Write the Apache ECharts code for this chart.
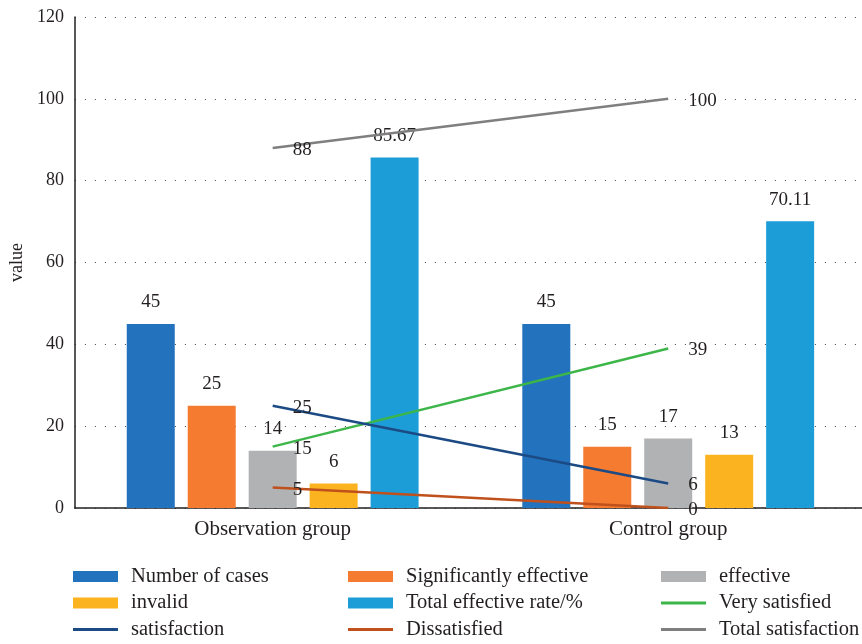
<!DOCTYPE html>
<html><head><meta charset="utf-8">
<script src="https://cdn.jsdelivr.net/npm/echarts@6/dist/echarts.min.js"></script>
<style>html,body{margin:0;padding:0;background:#fff;overflow:hidden;width:862px;height:644px}#c{width:870px;height:644px}</style>
</head><body><div id="c"></div>
<script>
var categories = ['Observation group', 'Control group'];
var numberOfCases = [45, 45];
var significantlyEffective = [25, 15];
var effective = [14, 17];
var invalid = [6, 13];
var totalEffectiveRate = [85.67, 70.11];
var verySatisfied = [15, 39];
var satisfaction = [25, 6];
var dissatisfied = [5, 0];
var totalSatisfaction = [88, 100];
var yTicks = [0, 20, 40, 60, 80, 100, 120];

var FONT = 'Liberation Serif';
var TXT = '#231f20';
var chart = echarts.init(document.getElementById('c'));
function bar(name, data, color) {
  return {
    name: name, type: 'bar', data: data, barWidth: 48, barGap: '27%',
    itemStyle: { color: color },
    label: { show: true, position: 'top', distance: 12, color: TXT, fontFamily: FONT, fontSize: 19 }
  };
}
function line(name, data, color) {
  return {
    name: name, type: 'line', data: data, symbol: 'circle', symbolSize: 0, showSymbol: true, z: 5,
    lineStyle: { color: color, width: 2.5 }, itemStyle: { color: color },
    label: { show: true, position: 'right', distance: 20, offset: [0, 2], color: TXT, fontFamily: FONT, fontSize: 19 }
  };
}
var LINE_ICON = 'path://M0,0 L0.01,0 L0.01,0.01 Z M0,11 L0.01,11 L0.01,10.99 Z M0,4 L46,4 L46,7 L0,7 Z';
var legendText = { fontFamily: FONT, fontSize: 20.5, color: TXT, lineHeight: 20, padding: [0, 0, 0, 8] };
function legend(left, names) {
  return {
    orient: 'vertical', left: left, top: 566, padding: 0, height: 78, itemGap: 5.5, itemWidth: 45, itemHeight: 11,
    textStyle: legendText, data: names
  };
}
chart.setOption({
  animation: false,
  grid: { left: 74, right: 4, top: 17, bottom: 136, containLabel: false },
  legend: [
    legend(73, [{ name: 'Number of cases', icon: 'rect' }, { name: 'invalid', icon: 'rect' }, { name: 'satisfaction', icon: LINE_ICON }]),
    legend(348, [{ name: 'Significantly effective', icon: 'rect' }, { name: 'Total effective rate/%', icon: 'rect' }, { name: 'Dissatisfied', icon: LINE_ICON }]),
    legend(661, [{ name: 'effective', icon: 'rect' }, { name: 'Very satisfied', icon: LINE_ICON }, { name: 'Total satisfaction', icon: LINE_ICON }])
  ],
  xAxis: {
    type: 'category', data: categories,
    axisLine: { lineStyle: { color: TXT, width: 1.5 } },
    axisTick: { show: false },
    axisLabel: { fontFamily: FONT, fontSize: 21, color: TXT, margin: 11 }
  },
  yAxis: {
    type: 'value', min: yTicks[0], max: yTicks[yTicks.length - 1], interval: 20,
    name: 'value', nameLocation: 'middle', nameGap: 45, nameRotate: 90,
    nameTextStyle: { fontFamily: FONT, fontSize: 18, color: TXT },
    axisLine: { show: true, lineStyle: { color: TXT, width: 1.5 } },
    axisTick: { show: false },
    axisLabel: { fontFamily: FONT, fontSize: 18, color: TXT, margin: 11 },
    splitLine: { lineStyle: { color: '#444', type: [1, 9], width: 1 } }
  },
  series: [
    bar('Number of cases', numberOfCases, '#2372bd'),
    bar('Significantly effective', significantlyEffective, '#f47b30'),
    bar('effective', effective, '#b1b2b4'),
    bar('invalid', invalid, '#fbb41f'),
    bar('Total effective rate/%', totalEffectiveRate, '#1c9dd8'),
    line('Very satisfied', verySatisfied, '#3db649'),
    line('satisfaction', satisfaction, '#1b4a84'),
    line('Dissatisfied', dissatisfied, '#c0501c'),
    line('Total satisfaction', totalSatisfaction, '#7f7f80')
  ]
});
</script></body></html>
